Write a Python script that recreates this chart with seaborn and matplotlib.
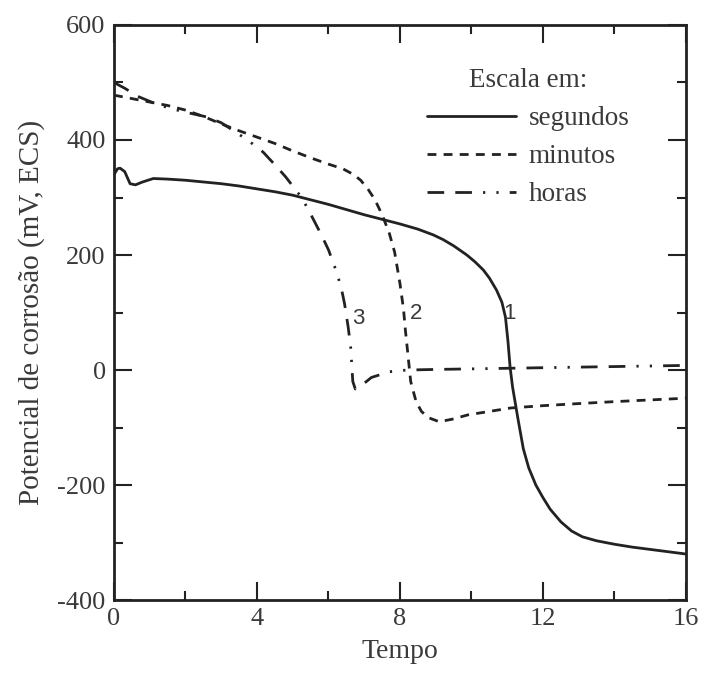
import matplotlib
matplotlib.use('AGG')

import matplotlib.pyplot as plt
from matplotlib.ticker import AutoMinorLocator, MultipleLocator
import seaborn as sns
import pandas as pd

# curve 1: scale in seconds
segundos_t = [0, 0.1, 0.17, 0.3, 0.45, 0.6, 0.8, 1.1, 1.5, 2, 2.5, 3, 3.5, 4,
              4.5, 5, 5.5, 6, 6.5, 7, 7.5, 8, 8.5, 8.93, 9.2, 9.5, 9.87, 10.1,
              10.33, 10.5, 10.7, 10.85, 10.95, 11.02, 11.08, 11.15, 11.3, 11.45,
              11.6, 11.8, 12, 12.2, 12.5, 12.8, 13.1, 13.5, 14, 14.5, 15, 15.5,
              16]
segundos_mv = [340, 350, 351, 345, 324, 322, 327, 333, 332, 330, 327, 324, 320,
               315, 310, 304, 296, 288, 279, 270, 262, 254, 245, 235, 227, 216,
               200, 188, 174, 160, 139, 118, 92, 50, 5, -30, -85, -137, -170,
               -200, -222, -242, -264, -280, -290, -297, -303, -308, -312, -316,
               -320]

# curve 2: scale in minutes
minutos_t = [0, 0.5, 1, 1.5, 2, 2.5, 3, 3.5, 4, 4.5, 5, 5.5, 6, 6.4, 6.7, 6.9,
             7.1, 7.3, 7.5, 7.7, 7.85, 8.0, 8.1, 8.15, 8.2, 8.3, 8.45, 8.6, 8.8,
             9.1, 9.5, 9.9, 10.5, 11.1, 12, 13.1, 14, 15, 16]
minutos_mv = [478, 472, 466, 460, 452, 441, 428, 416, 405, 394, 381, 369, 358,
              350, 340, 330, 315, 296, 270, 238, 205, 150, 105, 70, 40, -20, -55,
              -72, -83, -90, -85, -78, -72, -66, -62, -58, -55, -52, -49]

# curve 3: scale in hours
horas_t = [0, 0.3, 0.7, 1.2, 1.7, 2.1, 2.6, 3.0, 3.4, 3.8, 4.17, 4.5, 4.8, 5.26,
           5.56, 5.8, 6.0, 6.2, 6.35, 6.45, 6.55, 6.62, 6.65, 6.68, 6.75, 6.9,
           7.2, 7.7, 8.2, 9, 10, 11, 12, 13, 14, 15, 16]
horas_mv = [500, 490, 475, 462, 453, 447, 440, 430, 414, 397, 379, 357, 336, 299,
            264, 235, 209, 175, 145, 115, 75, 40, 10, -20, -33, -28, -13, -3, 0,
            1, 2, 3, 4, 5, 6, 7, 8]

escalas = ['segundos', 'minutos', 'horas']
curve_labels = ['1', '2', '3']
label_t = [11.05, 8.45, 6.83]
label_mv = [99, 99, 90]

df = pd.concat([
    pd.DataFrame({'t': segundos_t, 'mv': segundos_mv, 'escala': 'segundos'}),
    pd.DataFrame({'t': minutos_t, 'mv': minutos_mv, 'escala': 'minutos'}),
    pd.DataFrame({'t': horas_t, 'mv': horas_mv, 'escala': 'horas'}),
], ignore_index=True)

sns.set_style('ticks')
plt.rcParams['font.family'] = ['Liberation Serif', 'DejaVu Serif']
plt.rcParams['axes.unicode_minus'] = False

ink = '#222222'
txt = '#3a3a3a'

fig = plt.figure(figsize=(7.01, 6.79), dpi=100)
ax = fig.add_axes([0.1626, 0.1163, 0.816, 0.8469])

sns.lineplot(data=df, x='t', y='mv', style='escala', style_order=escalas,
             dashes={'segundos': '', 'minutos': (3.2, 2.6),
                     'horas': (6, 4, 6, 4, 0.8, 4, 0.8, 4)},
             color=ink, linewidth=2.0, estimator=None, sort=False,
             legend=False, ax=ax)

for lab, x, y in zip(curve_labels, label_t, label_mv):
    ax.text(x, y, lab, family='Liberation Sans', fontsize=16, color=txt,
            ha='center', va='center')

ax.set_xlim(0, 16)
ax.set_ylim(-400, 600)
ax.xaxis.set_major_locator(MultipleLocator(4))
ax.yaxis.set_major_locator(MultipleLocator(200))
ax.xaxis.set_minor_locator(AutoMinorLocator(2))
ax.yaxis.set_minor_locator(AutoMinorLocator(2))
ax.tick_params(which='both', direction='in', top=True, right=True,
               color=ink, width=1.5, labelsize=19, labelcolor=txt, pad=6)
ax.tick_params(which='major', length=13)
ax.tick_params(which='minor', length=6.5)
for sp in ax.spines.values():
    sp.set_linewidth(2)
    sp.set_color(ink)

ax.set_xlabel('Tempo', fontsize=20, color=txt, labelpad=6)
ax.set_ylabel('Potencial de corrosão (mV, ECS)', fontsize=21, color=txt,
              labelpad=9)

leg = ax.legend(handles=ax.get_lines()[:3], labels=escalas, title='Escala em:',
                loc='upper left', bbox_to_anchor=(0.547, 0.925), frameon=False,
                fontsize=19.5, title_fontsize=19.5, handlelength=3.3,
                handletextpad=0.45, labelspacing=0.48, borderpad=0,
                borderaxespad=0)
for t in leg.get_texts():
    t.set_color(txt)
leg.get_title().set_color(txt)

fig.savefig('out.png', dpi=100)
